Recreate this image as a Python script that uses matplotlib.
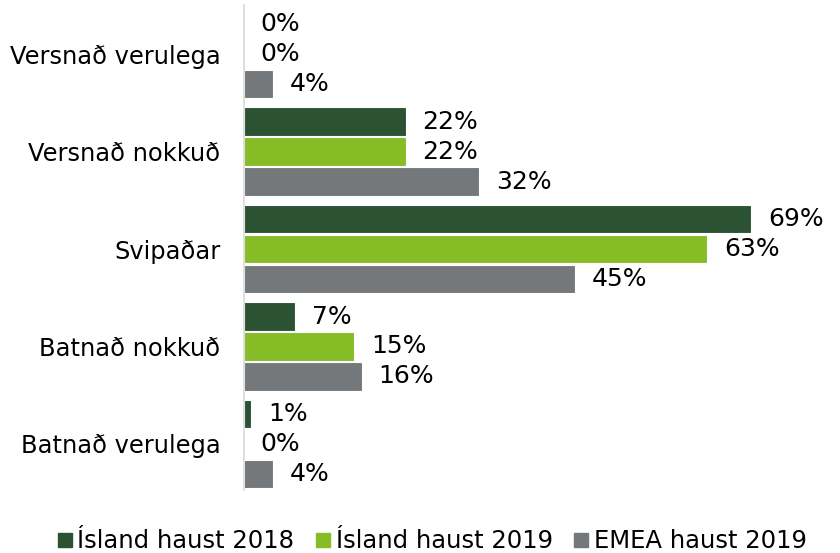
import matplotlib
matplotlib.use("Agg")
import matplotlib.pyplot as plt
from matplotlib.lines import Line2D
import numpy as np

categories = ["Versnað verulega", "Versnað nokkuð", "Svipaðar", "Batnað nokkuð", "Batnað verulega"]
series_names = ["Ísland haust 2018", "Ísland haust 2019", "EMEA haust 2019"]
island_2018 = [0, 22, 69, 7, 1]
island_2019 = [0, 22, 63, 15, 0]
emea_2019 = [4, 32, 45, 16, 4]
colors = ["#2C5234", "#86BC25", "#75787B"]

plt.rcParams['font.family'] = ['DejaVu Sans']

fig = plt.figure(figsize=(8.4, 5.53), dpi=100)
ax = fig.add_axes([244 / 840, 1 - 490 / 553, (830 - 244) / 840, (490 - 5) / 553])

y = np.arange(len(categories))
step = 0.3077
height = 0.29
for i, (vals, col) in enumerate(zip([island_2018, island_2019, emea_2019], colors)):
    pos = y + (i - 1) * step
    ax.barh(pos, vals, height=height, color=col, edgecolor="white", linewidth=0.8)
    for p, v in zip(pos, vals):
        ax.annotate(f"{v}%", xy=(v, p), xytext=(12, 0), textcoords="offset points",
                    va="center", ha="left", fontsize=18, color="#000000")

ax.set_xlim(0, 79.7)
ax.set_ylim(4.472, -0.503)
ax.set_yticks(y)
ax.set_yticklabels(categories, fontsize=17.4)
ax.tick_params(axis="y", length=0, pad=17)
ax.set_xticks([])
for s in ["top", "right", "bottom"]:
    ax.spines[s].set_visible(False)
ax.spines["left"].set_color("#D9D9D9")
ax.spines["left"].set_linewidth(1.2)

handles = [Line2D([], [], marker="s", linestyle="none", markersize=9.5, color=c) for c in colors]
fig.legend(handles, series_names, loc="center", bbox_to_anchor=(0.515, 0.021), ncol=3,
           frameon=False, fontsize=17.5, handlelength=0.55, handletextpad=0.25,
           columnspacing=0.9, borderaxespad=0)

fig.savefig("out.png", dpi=100)
